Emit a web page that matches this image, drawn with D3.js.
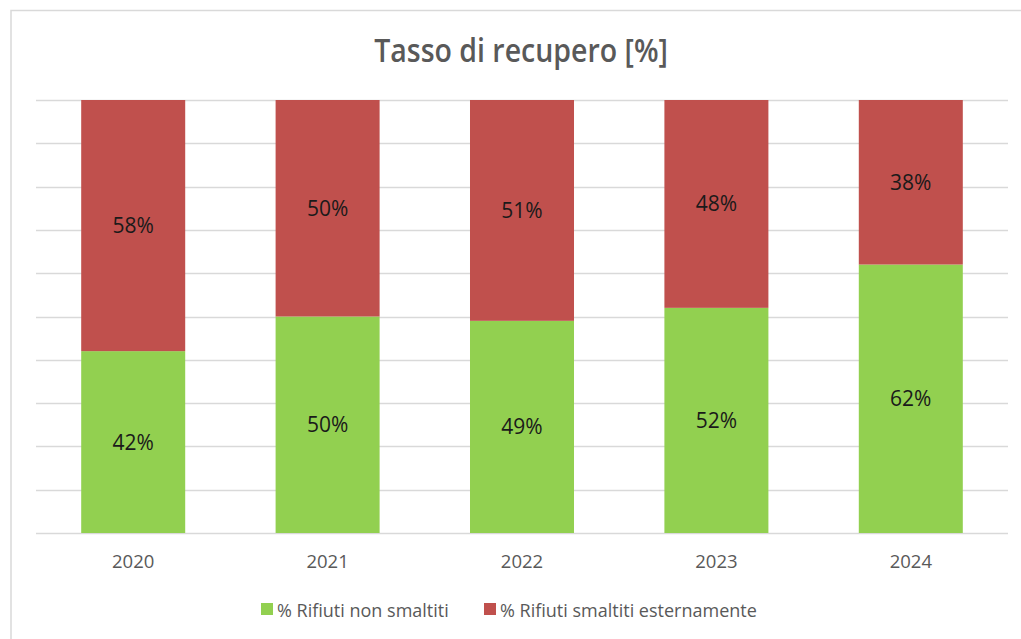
<!DOCTYPE html>
<html>
<head>
<meta charset="utf-8">
<script src="https://cdn.jsdelivr.net/npm/d3@7"></script>
<style>
  body { margin: 0; background: #fff; }
  svg { display: block; font-family: "Open Sans", "Noto Sans", sans-serif; }
</style>
</head>
<body>
<div id="chart"></div>
<script>
// values
var years = ["2020", "2021", "2022", "2023", "2024"];
var nonSmaltiti = [42, 50, 49, 52, 62];
var smaltitiEst = [58, 50, 51, 48, 38];
var yTicks = [0, 10, 20, 30, 40, 50, 60, 70, 80, 90, 100];
var seriesNames = ["% Rifiuti non smaltiti", "% Rifiuti smaltiti esternamente"];
var seriesColors = ["#92d050", "#c0504d"];

var width = 1021, height = 639;
var margin = {left: 36, right: 13, top: 100, bottom: 106};

var svg = d3.select("#chart").append("svg")
    .attr("width", width)
    .attr("height", height);

// outer chart frame (cut off at right and bottom like the screenshot)
svg.append("rect")
    .attr("x", 11).attr("y", 10.5)
    .attr("width", width + 10).attr("height", height + 10)
    .attr("fill", "#fff")
    .attr("stroke", "#d9d9d9")
    .attr("stroke-width", 1.5);

svg.append("text")
    .attr("transform", "translate(521,62) scale(1,1.13)")
    .attr("text-anchor", "middle")
    .attr("fill", "#595959")
    .style("font-size", "28.5px")
    .style("font-weight", "600")
    .text("Tasso di recupero [%]");

var x = d3.scaleBand()
    .domain(years)
    .range([margin.left, width - margin.right])
    .paddingInner(0.465)
    .paddingOuter(0.2325);

var y = d3.scaleLinear()
    .domain([0, 100])
    .range([height - margin.bottom, margin.top]);

// gridlines
svg.append("g")
    .selectAll("line")
    .data(yTicks)
    .enter()
    .append("line")
    .attr("x1", margin.left).attr("x2", width - margin.right)
    .attr("y1", function (d) { return Math.round(y(d)) + 0.5; })
    .attr("y2", function (d) { return Math.round(y(d)) + 0.5; })
    .attr("stroke", "#d9d9d9")
    .attr("stroke-width", 1.5);

var table = years.map(function (yr, i) {
    return {year: yr, a: nonSmaltiti[i], b: smaltitiEst[i]};
});
var stacked = d3.stack().keys(["a", "b"])(table);

var groups = svg.append("g")
    .selectAll("g")
    .data(stacked)
    .enter()
    .append("g")
    .attr("fill", function (d, i) { return seriesColors[i]; });

groups.selectAll("rect")
    .data(function (d) { return d; })
    .enter()
    .append("rect")
    .attr("x", function (d) { return x(d.data.year); })
    .attr("width", x.bandwidth())
    .attr("y", function (d) { return y(d[1]); })
    .attr("height", function (d) { return y(d[0]) - y(d[1]); });

groups.selectAll("text")
    .data(function (d) { return d; })
    .enter()
    .append("text")
    .attr("x", function (d) { return x(d.data.year) + x.bandwidth() / 2; })
    .attr("y", function (d) { return (y(d[0]) + y(d[1])) / 2; })
    .attr("dy", "0.36em")
    .attr("text-anchor", "middle")
    .attr("fill", "#1a1a1a")
    .style("font-size", "21px")
    .text(function (d) { return (d[1] - d[0]) + "%"; });

// category axis
var xAxis = svg.append("g")
    .attr("transform", "translate(0," + y(0) + ")")
    .call(d3.axisBottom(x).tickSize(0).tickPadding(22));
xAxis.select(".domain").remove();
xAxis.selectAll("text")
    .attr("fill", "#595959")
    .style("font-size", "18.5px")
    .style("font-family", "'Open Sans', sans-serif");

// legend
var legendX = [261, 484];
var legend = svg.append("g")
    .selectAll("g")
    .data(seriesNames)
    .enter()
    .append("g")
    .attr("transform", function (d, i) { return "translate(" + legendX[i] + ",603)"; });
legend.append("rect")
    .attr("width", 12).attr("height", 12)
    .attr("fill", function (d, i) { return seriesColors[i]; });
legend.append("text")
    .attr("x", 16).attr("y", 14)
    .attr("fill", "#595959")
    .style("font-size", "18px")
    .text(function (d) { return d; });
</script>
</body>
</html>
